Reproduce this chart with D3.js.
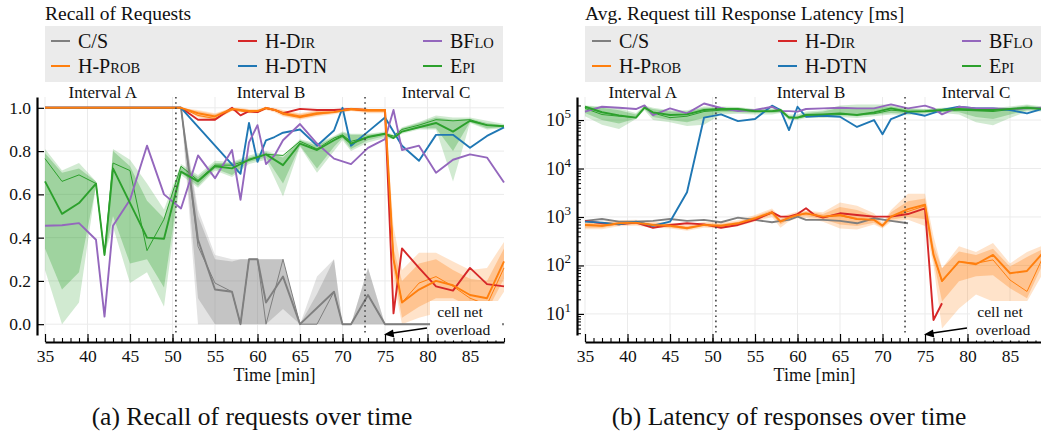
<!DOCTYPE html>
<html>
<head>
<meta charset="utf-8">
<script src="https://cdn.jsdelivr.net/npm/d3@7"></script>
<style>
  body { margin: 0; background: #fff; }
  svg { display: block; font-family: "Liberation Serif", "Times New Roman", serif; }
</style>
</head>
<body>
<script>
// ---------------------------------------------------------------------------
// Sample times [min]
const minutes = [35,37,39,41,42,43,45,47,49,51, 53,55,57,58,59,60,61,62,63,65,
                 67,69,70,71,73,75,76,77,79,81, 83,85,87,89];

// Legend / series
const seriesKeys   = ["C/S", "H-Prob", "H-Dir", "H-DTN", "BFlo", "Epi"];
const seriesColors = ["#7f7f7f", "#ff7f0e", "#d62728", "#1f77b4", "#9467bd", "#2ca02c"];
// label pieces: [text, smallCaps]
const seriesLabels = [
  [["C/S", false]],
  [["H-P", false], ["ROB", true]],
  [["H-D", false], ["IR", true]],
  [["H-DTN", false]],
  [["BF", false], ["LO", true]],
  [["E", false], ["PI", true]]
];

// Interval markers
const intervalNames  = ["Interval A", "Interval B", "Interval C"];
const intervalLabelAt = [41.8, 61.6, 81.0];
const intervalBounds  = [50.4, 72.65];

// Axis ticks
const timeTicks   = [35,40,45,50,55,60,65,70,75,80,85];
const recallTicks = [0, 0.2, 0.4, 0.6, 0.8, 1.0];
const latencyTicks = [10, 100, 1000, 10000, 100000];

// ---------------------------------------------------------------------------
// Recall of requests (mean = thick, median = thin, bands = spread)
const recallCS     = [1,1,1,1,1,1,1,1,1,1, 0.39,0.16,0.15,0,0.30,0.30,0.10,null,0.22,0,
                      null,0.15,0,0,0.135,0,0,0,0,0, 0,0,0,0];
const recallCSThin = [1,1,1,1,1,1,1,1,1,1, 0.36,0.19,0.15,0,0.30,0.30,0,null,0.30,0,
                      0,0.15,0,0,0.135,0,0,0,0,0, 0,0,0,0];
const recallCSOuter = [[1,1],[1,1],[1,1],[1,1],[1,1],[1,1],[1,1],[1,1],[1,1],[1,1],
  [0,0.53],[0,0.32],[0,0.30],[0,0.30],[0,0.30],[0,0.30],[0,0.30],null,[0,0.30],[0,0],
  [0,0.22],[0,0.30],[0,0],[0,0],[0,0.26],[0,0],null,null,null,null, null,null,null,null];
const recallCSInner = [[1,1],[1,1],[1,1],[1,1],[1,1],[1,1],[1,1],[1,1],[1,1],[1,1],
  [0.12,0.50],[0,0.30],[0,0.29],[0,0.30],[0,0.30],[0,0.30],[0,0.30],null,[0.07,0.30],[0,0],
  [0,0.14],[0,0.30],[0,0],[0,0],[0,0.26],[0,0],null,null,null,null, null,null,null,null];

const recallProb     = [1,1,1,1,1,1,1,1,1,1, 0.975,0.96,0.995,0.99,0.985,0.985,1.0,0.99,0.975,0.96,
                        0.975,0.98,null,0.995,0.99,0.99,0.30,0.10,0.16,0.20, 0.18,0.135,0.12,0.29];
const recallProbThin = [1,1,1,1,1,1,1,1,1,1, 0.965,0.95,0.99,0.985,0.98,0.98,0.995,0.99,0.97,0.955,
                        0.97,0.98,null,0.99,0.985,0.985,0.30,0.10,0.19,0.22, 0.175,0.12,0.09,0.26];
const recallProbOuter = [[1,1],[1,1],[1,1],[1,1],[1,1],[1,1],[1,1],[1,1],[1,1],[1,1],
  [0.955,0.99],[0.94,0.975],[0.985,1],[0.98,1],[0.975,0.995],[0.975,0.995],[0.99,1],[0.98,1],[0.96,0.99],[0.945,0.975],
  [0.96,0.99],[0.97,0.99],null,[0.985,1],[0.975,0.995],[0.975,0.995],[0.20,0.45],[0.0,0.25],[0.03,0.33],[0.05,0.33],
  [0.08,0.29],[0.05,0.25],[0.03,0.26],[0.15,0.38]];
const recallProbInner = [[1,1],[1,1],[1,1],[1,1],[1,1],[1,1],[1,1],[1,1],[1,1],[1,1],
  [0.96,0.985],[0.945,0.97],[0.99,1],[0.985,0.995],[0.98,0.99],[0.98,0.99],[0.995,1],[0.985,0.995],[0.965,0.985],[0.95,0.97],
  [0.965,0.985],[0.975,0.985],null,[0.99,1],[0.98,0.99],[0.98,0.99],[0.25,0.35],[0.03,0.20],[0.08,0.28],[0.12,0.30],
  [0.12,0.25],[0.08,0.21],[0.06,0.20],[0.21,0.35]];

const recallDir  = [1,1,1,1,1,1,1,1,1,1, 0.945,0.945,1.0,0.965,0.985,0.98,1.0,0.99,0.975,0.995,
                    0.99,0.99,null,0.995,0.99,0.99,0.05,0.35,0.26,0.175, 0.155,0.26,0.185,0.175];
const recallDTN  = [1,1,1,1,1,1,1,1,1,1, null,null,null,0.695,0.93,0.75,0.85,0.865,0.885,0.90,
                    0.825,0.895,1.0,0.825,0.89,0.955,null,0.825,0.755,0.875, 0.875,0.815,0.87,0.91];
const recallBFlo = [0.455,0.457,0.467,0.39,0.035,0.455,0.575,0.825,0.60,0.535,
                    0.78,0.675,0.805,0.575,0.84,0.92,0.74,0.78,0.85,0.925,
                    0.835,0.765,null,0.74,0.815,0.855,0.99,0.805,0.825,0.70, 0.76,0.785,0.77,0.655];

const recallEpi     = [0.66,0.51,0.56,0.65,0.32,0.72,null,0.40,0.395,0.705,
                       0.66,0.73,0.72,null,0.76,null,0.785,null,0.735,0.835,
                       0.805,0.85,0.87,0.835,0.865,0.88,0.86,0.89,0.91,0.93, 0.89,0.94,0.92,0.915];
const recallEpiThin = [0.765,0.66,0.69,0.65,0.32,0.745,0.71,0.34,0.485,0.73,
                       0.665,0.735,0.735,null,0.76,null,0.785,null,0.78,0.845,
                       0.81,0.86,0.875,0.845,0.865,0.88,0.87,0.90,0.92,0.945, 0.94,0.945,0.92,0.915];
const recallEpiOuter = [[0.25,0.81],[0.0,0.71],[0.10,0.745],[0.64,0.66],[0.32,0.32],[0.45,0.81],[0.19,0.76],[0.24,0.65],[0.08,0.53],[0.69,0.74],
  [0.63,0.69],[0.71,0.755],[0.68,0.75],null,[0.74,0.78],null,[0.76,0.80],null,[0.59,0.78],[0.82,0.855],
  [0.70,0.835],[0.80,0.87],[0.85,0.89],[0.80,0.88],[0.84,0.88],[0.86,0.89],[0.855,0.875],[0.88,0.91],[0.90,0.935],[0.90,0.965],
  [0.66,0.955],[0.93,0.955],[0.90,0.94],[0.905,0.925]];
const recallEpiInner = [[0.35,0.79],[0.16,0.70],[0.24,0.72],[0.64,0.66],[0.32,0.32],[0.50,0.80],[0.28,0.73],[0.30,0.57],[0.17,0.49],[0.70,0.73],
  [0.64,0.68],[0.72,0.745],[0.69,0.745],null,[0.75,0.77],null,[0.77,0.795],null,[0.65,0.77],[0.825,0.85],
  [0.72,0.825],[0.82,0.865],[0.86,0.885],[0.81,0.875],[0.85,0.875],[0.87,0.885],[0.86,0.87],[0.89,0.905],[0.905,0.93],[0.905,0.955],
  [0.80,0.945],[0.935,0.95],[0.905,0.93],[0.91,0.92]];

// ---------------------------------------------------------------------------
// Average request-to-response latency [ms]
const latencyCS   = [830,910,800,800,null,830,910,830,870,777, 970,870,777,830,870,1015,870,null,870,830,
                     740,940,null,830,740,null,null,null,null,null, null,null,null,null];

const latencyProb     = [685,660,740,765,null,685,660,585,685,660, 740,940,1250,800,970,1100,1190,null,1015,1100,
                         910,870,660,1015,1450,1800,165,48,120,106, 165,69,77,193];
const latencyProbThin = [700,650,720,760,null,690,670,600,680,650, 720,920,1200,820,960,1080,1170,null,1000,1060,
                         900,880,660,1000,1300,1700,165,46,120,111, 130,50,29,165];
const latencyProbOuter = [[560,840],[560,800],[640,860],[660,880],null,[600,800],[580,760],[520,680],[600,800],[580,760],
  [640,860],[800,1100],[1000,1500],[600,1000],[820,1150],[950,1300],[950,1350],null,[800,1250],[580,2000],
  [550,1700],[700,1200],[580,760],[800,1400],[880,3000],[650,3000],[100,400],[5,87],[13,250],[25,190],
  [18,290],[13,110],[18,190],[75,265]];
const latencyProbInner = [[600,780],[600,730],[680,800],[700,820],null,[640,740],[610,720],[550,640],[640,740],[610,720],
  [680,800],[860,1020],[1100,1400],[700,900],[880,1080],[1000,1200],[1050,1300],null,[900,1150],[700,1600],
  [650,1400],[760,1050],[610,720],[880,1250],[1000,2100],[900,2400],[130,260],[18,87],[47,195],[60,165],
  [63,220],[34,95],[21,150],[120,225]];

const latencyDir  = [830,740,705,765,null,600,685,740,705,600, 685,870,1250,1015,1015,1150,1510,1100,970,1190,
                     1100,1015,null,1015,1150,1510,7.5,16.6,null,null, null,null,null,null];
const latencyDTN  = [800,765,705,800,null,660,800,3230,1.12e5,1.31e5, 9.5e4,1.05e5,1.98e5,1.61e5,6.2e4,1.88e5,1.17e5,null,1.23e5,1.17e5,
                     7.2e4,1.0e5,5.1e4,1.05e5,1.44e5,1.23e5,null,1.61e5,1.88e5,1.74e5, 1.74e5,1.61e5,1.37e5,1.74e5];
const latencyBFlo = [1.49e5,1.88e5,1.8e5,1.69e5,2.0e5,1.27e5,1.74e5,1.37e5,2.2e5,1.77e5,
                     1.53e5,1.61e5,1.88e5,1.53e5,1.53e5,1.49e5,1.69e5,null,1.74e5,1.8e5,
                     1.74e5,1.74e5,null,2.1e5,1.74e5,1.98e5,1.74e5,1.31e5,1.88e5,1.74e5, 1.74e5,1.69e5,1.74e5,1.8e5];

const latencyEpi     = [1.88e5,1.45e5,1.25e5,1.12e5,1.8e5,1.44e5,1.27e5,1.31e5,1.61e5,1.69e5,
                        1.69e5,1.53e5,1.53e5,1.61e5,1.12e5,1.12e5,1.27e5,null,1.31e5,1.37e5,
                        1.27e5,1.44e5,null,1.74e5,1.49e5,1.53e5,null,1.61e5,1.69e5,1.61e5, 1.61e5,1.69e5,1.8e5,1.69e5];
const latencyEpiThin = [1.74e5,1.3e5,1.2e5,1.12e5,1.8e5,1.4e5,1.12e5,1.2e5,1.5e5,1.6e5,
                        1.6e5,1.5e5,1.5e5,1.55e5,1.15e5,1.12e5,1.2e5,null,1.25e5,1.3e5,
                        1.3e5,1.35e5,null,1.6e5,1.5e5,1.5e5,null,1.55e5,1.6e5,1.55e5, 1.5e5,1.65e5,1.75e5,1.7e5];
const latencyEpiOuter = [[1.2e5,2.0e5],[8e4,1.9e5],[6.5e4,1.75e5],[1.05e5,1.4e5],[1.6e5,2.0e5],[1.0e5,1.8e5],[9e4,1.6e5],[7.5e4,1.6e5],[8e4,1.9e5],[1.3e5,1.9e5],
  [1.35e5,1.85e5],[1.3e5,1.7e5],[1.3e5,1.75e5],[1.4e5,1.75e5],[1.0e5,1.3e5],[1.0e5,1.3e5],[1.1e5,1.5e5],null,[1.1e5,1.6e5],[1.15e5,2.0e5],
  [1.1e5,2.1e5],[1.2e5,2.1e5],null,[1.3e5,2.1e5],[1.25e5,1.8e5],[1.35e5,1.7e5],null,[1.4e5,1.8e5],[1.3e5,1.85e5],[9e4,1.8e5],
  [7.8e4,1.8e5],[1.1e5,1.9e5],[1.5e5,2.1e5],[1.5e5,1.9e5]];
const latencyEpiInner = [[1.4e5,1.95e5],[1.0e5,1.8e5],[8.5e4,1.6e5],[1.08e5,1.3e5],[1.7e5,1.9e5],[1.15e5,1.7e5],[1.0e5,1.5e5],[9e4,1.5e5],[1.1e5,1.8e5],[1.45e5,1.8e5],
  [1.45e5,1.8e5],[1.4e5,1.65e5],[1.4e5,1.65e5],[1.45e5,1.7e5],[1.05e5,1.2e5],[1.05e5,1.2e5],[1.15e5,1.4e5],null,[1.2e5,1.5e5],[1.25e5,1.8e5],
  [1.2e5,1.8e5],[1.3e5,1.8e5],null,[1.4e5,1.9e5],[1.35e5,1.7e5],[1.4e5,1.65e5],null,[1.5e5,1.75e5],[1.45e5,1.8e5],[1.15e5,1.75e5],
  [1.05e5,1.75e5],[1.3e5,1.8e5],[1.6e5,2.0e5],[1.6e5,1.8e5]];

// ---------------------------------------------------------------------------
const W = 1041, H = 432;
const TOP = 97, BOTTOM = 335, AXIS_Y = 342, SPINE_GAP = 8;
const PLOT_W = 459;

const svg = d3.select("body").append("svg")
  .attr("width", W).attr("height", H)
  .attr("viewBox", `0 0 ${W} ${H}`);

function drawPanel(cfg) {
  const g = svg.append("g");
  const x = d3.scaleLinear().domain([35, 89]).range([cfg.left, cfg.left + PLOT_W]);
  const y = cfg.y;

  // title
  g.append("text").attr("x", cfg.left).attr("y", 20)
    .attr("font-size", 19.5).attr("fill", "#111").text(cfg.title);

  // legend box
  g.append("rect").attr("x", cfg.left).attr("y", 26)
    .attr("width", cfg.legendW).attr("height", 56).attr("fill", "#ebebeb");
  const legendOrder = [0, 1, 2, 3, 4, 5];
  legendOrder.forEach((si, k) => {
    const col = Math.floor(k / 2), row = k % 2;
    const lx = cfg.legendCols[col], ly = 41 + row * 25;
    g.append("line").attr("x1", lx).attr("x2", lx + 19).attr("y1", ly).attr("y2", ly)
      .attr("stroke", seriesColors[si]).attr("stroke-width", 2);
    const t = g.append("text").attr("x", lx + 27).attr("y", ly + 7)
      .attr("font-size", 20).attr("fill", "#111");
    seriesLabels[si].forEach(([s, sc]) => {
      t.append("tspan").attr("font-size", sc ? 14.5 : 20).text(s);
    });
  });

  // grid
  const grid = g.append("g").attr("stroke", "#ebebeb").attr("stroke-width", 1);
  timeTicks.forEach(t => grid.append("line")
    .attr("x1", x(t)).attr("x2", x(t)).attr("y1", TOP).attr("y2", BOTTOM));
  cfg.yTicks.forEach(v => grid.append("line")
    .attr("x1", x.range()[0]).attr("x2", x.range()[1]).attr("y1", y(v)).attr("y2", y(v)));

  // bands
  const bandArea = d3.area().x(d => x(d.t)).y0(d => y(d.b[0])).y1(d => y(d.b[1]));
  cfg.series.forEach(s => {
    [[s.outer, 0.22], [s.inner, 0.3]].forEach(([band, op]) => {
      if (!band) return;
      const pts = minutes.map((t, i) => ({ t, b: band[i] })).filter(d => d.b);
      g.append("path").attr("d", bandArea(pts))
        .attr("fill", s.color).attr("fill-opacity", op).attr("stroke", "none");
    });
  });

  // lines
  const line = d3.line().x(d => x(d.t)).y(d => y(d.v));
  const drawOrder = [0, 2, 3, 4, 5, 1];
  drawOrder.forEach(si => {
    const s = cfg.series[si];
    if (s.thin) {
      const pts = minutes.map((t, i) => ({ t, v: s.thin[i] })).filter(d => d.v != null);
      g.append("path").attr("d", line(pts)).attr("fill", "none")
        .attr("stroke", s.color).attr("stroke-width", 1).attr("stroke-linejoin", "round");
    }
  });
  drawOrder.forEach(si => {
    const s = cfg.series[si];
    const pts = minutes.map((t, i) => ({ t, v: s.main[i] })).filter(d => d.v != null);
    g.append("path").attr("d", line(pts)).attr("fill", "none")
      .attr("stroke", s.color).attr("stroke-width", 1.9).attr("stroke-linejoin", "round");
  });

  // interval boundaries and labels
  intervalBounds.forEach(t => g.append("line")
    .attr("x1", x(t)).attr("x2", x(t)).attr("y1", TOP).attr("y2", BOTTOM)
    .attr("stroke", "#444").attr("stroke-width", 1.6).attr("stroke-dasharray", "1.6,3.6"));
  intervalNames.forEach((n, i) => g.append("text")
    .attr("x", x(intervalLabelAt[i])).attr("y", 98).attr("text-anchor", "middle")
    .attr("font-size", 17).attr("fill", "#111").text(n));

  // bottom axis (inward ticks)
  const xAxis = g.append("g").attr("transform", `translate(0,${AXIS_Y})`)
    .call(d3.axisBottom(x).tickValues(timeTicks).tickSizeInner(-8).tickSizeOuter(0).tickPadding(8));
  xAxis.select(".domain").attr("stroke", "#000").attr("stroke-width", 2.2);
  xAxis.selectAll("text").attr("font-family", "Liberation Serif").attr("font-size", 17.5).attr("fill", "#111");
  xAxis.selectAll(".tick line").attr("stroke-width", 1.2);
  const xMinor = g.append("g").attr("transform", `translate(0,${AXIS_Y})`)
    .call(d3.axisBottom(x).tickValues(d3.range(35, 90)).tickSize(-4).tickFormat(""));
  xMinor.select(".domain").remove();
  xMinor.selectAll(".tick line").attr("stroke-width", 1.1);

  g.append("text").attr("x", (x.range()[0] + x.range()[1]) / 2).attr("y", 381)
    .attr("text-anchor", "middle").attr("font-size", 18).attr("fill", "#111").text("Time [min]");

  // left axis (inward ticks)
  const yAxis = g.append("g").attr("transform", `translate(${cfg.left - SPINE_GAP},0)`);
  if (cfg.log) {
    yAxis.call(d3.axisLeft(y).tickValues(latencyTicks).tickSizeInner(-7).tickSizeOuter(0).tickFormat(""));
    const minor = [];
    for (let e = 0; e <= 5; e++) for (let m = 2; m <= 9; m++) {
      const v = m * Math.pow(10, e);
      if (v > y.domain()[0] && v < y.domain()[1]) minor.push(v);
    }
    const yMinor = g.append("g").attr("transform", `translate(${cfg.left - SPINE_GAP},0)`)
      .call(d3.axisLeft(y).tickValues(minor).tickSize(-4).tickFormat(""));
    yMinor.select(".domain").remove();
    latencyTicks.forEach(v => {
      const t = g.append("text").attr("x", cfg.left - SPINE_GAP - 6).attr("y", y(v) + 6)
        .attr("text-anchor", "end").attr("font-size", 18.5).attr("fill", "#111");
      t.append("tspan").text("10");
      t.append("tspan").attr("dy", -8).attr("font-size", 13).text(String(Math.round(Math.log10(v))));
    });
  } else {
    yAxis.call(d3.axisLeft(y).tickValues(cfg.yTicks).tickSizeInner(-7).tickSizeOuter(0)
      .tickPadding(6).tickFormat(d3.format(".1f")));
    yAxis.selectAll("text").attr("font-family", "Liberation Serif").attr("font-size", 17.5).attr("fill", "#111");
  }
  yAxis.select(".domain").attr("stroke", "#000").attr("stroke-width", 2.2);
  yAxis.selectAll(".tick line").attr("stroke-width", 1.2);

  // annotation: cell net overload
  const ax = x(75);
  g.append("rect").attr("x", ax + 45).attr("y", 301).attr("width", 72).attr("height", 39.5)
    .attr("fill", "#fff");
  g.append("text").attr("x", ax + 75).attr("y", 316.5).attr("text-anchor", "middle")
    .attr("font-size", 15.6).attr("fill", "#111").text("cell net");
  g.append("text").attr("x", ax + 78).attr("y", 334.5).attr("text-anchor", "middle")
    .attr("font-size", 15.6).attr("fill", "#111").text("overload");
  g.append("line").attr("x1", ax + 42).attr("y1", 328).attr("x2", ax + 6).attr("y2", 333.3)
    .attr("stroke", "#000").attr("stroke-width", 1.5);
  g.append("path")
    .attr("d", `M${ax - 1},334.5 L${ax + 8},329.6 L${ax + 9.3},337.6 Z`)
    .attr("fill", "#000");

  // caption
  g.append("text").attr("x", cfg.captionX).attr("y", 425).attr("text-anchor", "middle")
    .attr("font-size", 25.5).attr("fill", "#111").text(cfg.caption);
}

const colorOf = k => seriesColors[seriesKeys.indexOf(k)];

drawPanel({
  left: 45,
  title: "Recall of Requests",
  caption: "(a) Recall of requests over time",
  captionX: 252,
  legendW: 458,
  legendCols: [51, 238, 423],
  y: d3.scaleLinear().domain([-0.05, 1.05]).range([BOTTOM, TOP]),
  yTicks: recallTicks,
  log: false,
  series: [
    { color: colorOf("C/S"),    main: recallCS,   thin: recallCSThin,   outer: recallCSOuter,   inner: recallCSInner },
    { color: colorOf("H-Prob"), main: recallProb, thin: recallProbThin, outer: recallProbOuter, inner: recallProbInner },
    { color: colorOf("H-Dir"),  main: recallDir },
    { color: colorOf("H-DTN"),  main: recallDTN },
    { color: colorOf("BFlo"),   main: recallBFlo },
    { color: colorOf("Epi"),    main: recallEpi,  thin: recallEpiThin,  outer: recallEpiOuter,  inner: recallEpiInner }
  ]
});

drawPanel({
  left: 585,
  title: "Avg. Request till Response Latency [ms]",
  caption: "(b) Latency of responses over time",
  captionX: 789,
  legendW: 470,
  legendCols: [592, 778, 962],
  y: d3.scaleLog().domain([3.67, 2.99e5]).range([BOTTOM, TOP]),
  yTicks: latencyTicks,
  log: true,
  series: [
    { color: colorOf("C/S"),    main: latencyCS },
    { color: colorOf("H-Prob"), main: latencyProb, thin: latencyProbThin, outer: latencyProbOuter, inner: latencyProbInner },
    { color: colorOf("H-Dir"),  main: latencyDir },
    { color: colorOf("H-DTN"),  main: latencyDTN },
    { color: colorOf("BFlo"),   main: latencyBFlo },
    { color: colorOf("Epi"),    main: latencyEpi,  thin: latencyEpiThin,  outer: latencyEpiOuter,  inner: latencyEpiInner }
  ]
});
</script>
</body>
</html>
